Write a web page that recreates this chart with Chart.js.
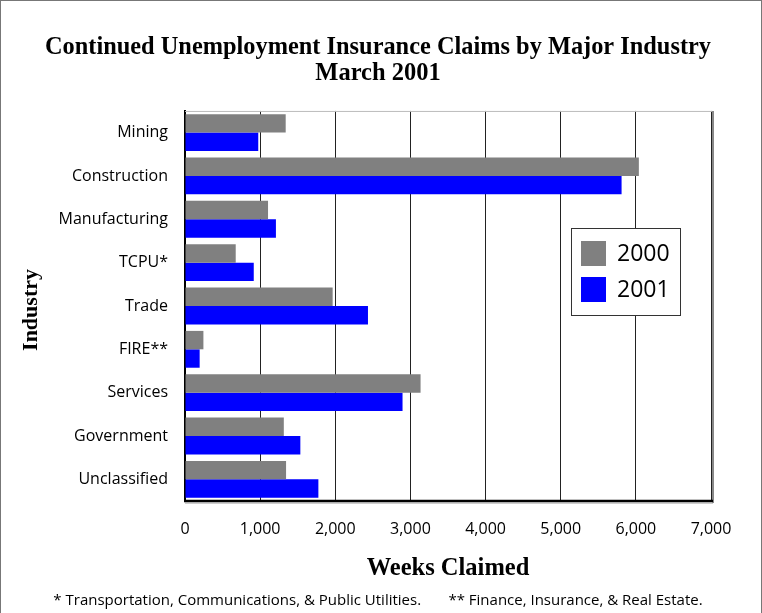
<!DOCTYPE html>
<html>
<head>
<meta charset="utf-8">
<script src="https://cdn.jsdelivr.net/npm/chart.js@4.4.0/dist/chart.umd.min.js"></script>
<style>
  html, body { margin: 0; padding: 0; background: #fff; }
  #wrap { position: absolute; left: 0; top: 0; width: 760px; height: 613px; border: 1px solid #777; border-bottom: none; }
  canvas { display: block; }
</style>
</head>
<body>
<div id="wrap"><canvas id="c" width="760" height="613"></canvas></div>
<script>
const categories = ["Mining", "Construction", "Manufacturing", "TCPU*", "Trade", "FIRE**", "Services", "Government", "Unclassified"];
const values2000 = [1340, 6040, 1105, 675, 1965, 245, 3135, 1315, 1345];
const values2001 = [975, 5810, 1210, 915, 2435, 195, 2895, 1535, 1775];
const seriesLabels = ["2000", "2001"];
const seriesColors = ["#808080", "#0000FF"];
const xTicks = [0, 1000, 2000, 3000, 4000, 5000, 6000, 7000];
const yAxisTitle = "Industry";

const sansFont = "'Open Sans', 'Noto Sans', sans-serif";
const serifFont = "'Liberation Serif', 'DejaVu Serif', serif";

const customLegend = {
  id: 'customLegend',
  afterDraw(chart) {
    const ctx = chart.ctx;
    const x0 = 570, y0 = 227, w = 109, h = 87;
    ctx.save();
    ctx.fillStyle = '#fff';
    ctx.fillRect(x0, y0, w, h);
    ctx.strokeStyle = '#333';
    ctx.lineWidth = 1;
    ctx.strokeRect(x0 + 0.5, y0 + 0.5, w, h);
    ctx.font = "23px " + sansFont;
    ctx.textBaseline = 'middle';
    chart.data.datasets.forEach((ds, i) => {
      const sy = y0 + 13 + i * 36;
      ctx.fillStyle = ds.backgroundColor;
      ctx.fillRect(x0 + 10, sy, 25, 25);
      ctx.fillStyle = '#000';
      ctx.fillText(ds.label, x0 + 46, sy + 13);
    });
    ctx.restore();
  }
};

const yTitlePlugin = {
  id: 'yTitlePlugin',
  afterDraw(chart) {
    const {ctx, chartArea: a} = chart;
    ctx.save();
    ctx.translate(30, (a.top + a.bottom) / 2 + 4);
    ctx.rotate(-Math.PI / 2);
    ctx.font = "bold 22px " + serifFont;
    ctx.fillStyle = '#000';
    ctx.textAlign = 'center';
    ctx.textBaseline = 'middle';
    ctx.fillText(yAxisTitle, 0, 0);
    ctx.restore();
  }
};

const plotFrame = {
  id: 'plotFrame',
  afterDatasetsDraw(chart) {
    const {ctx, chartArea: a} = chart;
    ctx.save();
    ctx.strokeStyle = '#bbb';
    ctx.lineWidth = 1;
    ctx.beginPath();
    ctx.moveTo(a.left, a.top + 0.5);
    ctx.lineTo(a.right + 2, a.top + 0.5);
    ctx.stroke();
    ctx.strokeStyle = '#888';
    ctx.lineWidth = 2;
    ctx.beginPath();
    ctx.moveTo(a.right + 2, a.top);
    ctx.lineTo(a.right + 2, a.bottom + 2);
    ctx.stroke();
    ctx.strokeStyle = '#000';
    ctx.lineWidth = 2.5;
    ctx.beginPath();
    ctx.moveTo(a.left - 1, a.bottom);
    ctx.lineTo(a.right + 2, a.bottom);
    ctx.stroke();
    ctx.strokeStyle = '#999';
    ctx.lineWidth = 1;
    ctx.beginPath();
    ctx.moveTo(a.left, a.bottom + 2);
    ctx.lineTo(a.right + 2, a.bottom + 2);
    ctx.stroke();
    ctx.restore();
  }
};

new Chart(document.getElementById('c'), {
  type: 'bar',
  data: {
    labels: categories,
    datasets: [
      { label: seriesLabels[0], data: values2000, backgroundColor: seriesColors[0] },
      { label: seriesLabels[1], data: values2001, backgroundColor: seriesColors[1] }
    ]
  },
  options: {
    indexAxis: 'y',
    responsive: false,
    animation: false,
    layout: { padding: { left: 44, right: 50, top: 0, bottom: 0 } },
    datasets: { bar: { categoryPercentage: 0.85, barPercentage: 1.0 } },
    plugins: {
      legend: { display: false },
      tooltip: { enabled: false },
      title: {
        display: true,
        text: ["Continued Unemployment Insurance Claims by Major Industry", "March 2001"],
        color: '#000',
        font: { family: serifFont, size: 24.5, weight: 'bold', lineHeight: 1.06 },
        padding: { top: 34, bottom: 24 }
      },
      subtitle: {
        display: true,
        position: 'bottom',
        text: "* Transportation, Communications, & Public Utilities.       ** Finance, Insurance, & Real Estate.",
        color: '#000',
        font: { family: sansFont, size: 15, lineHeight: 1.2 },
        padding: { top: 4, bottom: 4 }
      }
    },
    scales: {
      x: {
        min: 0,
        max: 7000,
        afterBuildTicks(scale) { scale.ticks = xTicks.map(v => ({ value: v })); },
        ticks: {
          color: '#000',
          padding: 19,
          maxRotation: 0,
          font: { family: sansFont, size: 16 },
          callback: v => v.toLocaleString('en-US')
        },
        grid: { color: '#222', lineWidth: 1, drawTicks: false },
        border: { display: true, color: '#000', width: 2 },
        title: {
          display: true,
          text: 'Weeks Claimed',
          color: '#000',
          font: { family: serifFont, size: 24.5, weight: 'bold', lineHeight: 1.2 },
          padding: { top: 14, bottom: 5 }
        },
        afterFit(scale) { scale.height = 87; }
      },
      y: {
        ticks: {
          color: '#000',
          padding: 17,
          font: { family: sansFont, size: 16 }
        },
        grid: { display: false, drawTicks: false },
        border: { display: true, color: '#000', width: 2 },
        title: { display: false },
        afterFit(scale) { scale.width = 140; }
      }
    }
  },
  plugins: [plotFrame, customLegend, yTitlePlugin]
});
</script>
</body>
</html>
